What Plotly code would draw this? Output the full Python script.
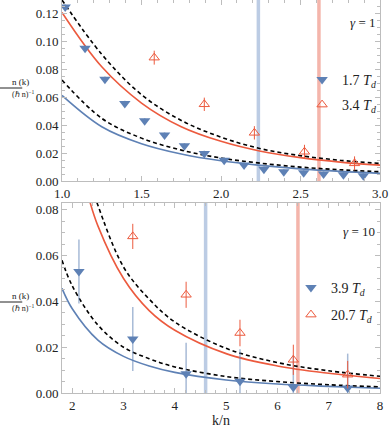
import plotly.graph_objects as go
from plotly.subplots import make_subplots

# ---- top panel (gamma = 1) ----
k_top = [1.0, 1.25, 1.5, 1.75, 2.0, 2.25, 2.5, 2.75, 3.0]
red_top = [0.121, 0.082, 0.056, 0.0390, 0.0285, 0.0214, 0.0168, 0.0136, 0.0114]
red_top_dash = [0.130, 0.091, 0.062, 0.0435, 0.0315, 0.0232, 0.0182, 0.0149, 0.0126]
blue_top = [0.0615, 0.0390, 0.0268, 0.0194, 0.0145, 0.0112, 0.0087, 0.0069, 0.0055]
blue_top_dash = [0.0725, 0.0450, 0.0308, 0.0222, 0.0165, 0.0128, 0.0100, 0.0081, 0.0067]

kb_top = [1.02, 1.145, 1.27, 1.395, 1.52, 1.645, 1.77, 1.895, 2.02, 2.145, 2.27, 2.395, 2.52, 2.645, 2.77, 2.895]
nb_top = [0.125, 0.0954, 0.073, 0.0556, 0.0432, 0.033, 0.0253, 0.0198, 0.015, 0.0115, 0.0084, 0.0067, 0.006, 0.005, 0.0045, 0.0038]
eb_top = [0.002] * 16
kr_top = [1.58, 1.895, 2.21, 2.525, 2.84]
nr_top = [0.0886, 0.0551, 0.0346, 0.021, 0.0127]
er_top = [0.005, 0.0048, 0.0048, 0.005, 0.005]
bands_top = [2.235, 2.616]

# ---- bottom panel (gamma = 10) ----
k_bot = [1.8, 2.0, 2.5, 3.0, 3.5, 4.0, 5.0, 6.0, 7.0, 8.0]
blue_bot = [0.0457, 0.0368, 0.0231, 0.0160, 0.0118, 0.0090, 0.0057, 0.0039, 0.0029, 0.0021]
blue_bot_dash = [0.058, 0.0468, 0.0297, 0.0200, 0.0150, 0.0114, 0.0072, 0.0050, 0.0036, 0.0027]
k_bot_r = [2.3, 2.5, 3.0, 3.5, 4.0, 5.0, 6.0, 7.0, 8.0]
red_bot = [0.087, 0.073, 0.050, 0.036, 0.0274, 0.0172, 0.0118, 0.0086, 0.0063]
k_bot_rd = [2.4, 2.5, 3.0, 3.5, 4.0, 5.0, 6.0, 7.0, 8.0]
red_bot_dash = [0.089, 0.082, 0.055, 0.041, 0.031, 0.0195, 0.0133, 0.0097, 0.0073]

kb_bot = [2.13, 3.18, 4.22, 5.27, 6.31, 7.37]
nb_bot = [0.0531, 0.0236, 0.0084, 0.0051, 0.0025, 0.0022]
eb_bot = [0.014, 0.014, 0.0135, 0.014, 0.014, 0.015]
kr_bot = [3.18, 4.22, 5.27, 6.31, 7.37]
nr_bot = [0.0684, 0.0429, 0.0262, 0.0145, 0.008]
er_bot = [0.0055, 0.0057, 0.0058, 0.0066, 0.006]
bands_bot = [4.60, 6.40]

BLUE = '#5e81b5'
RED = '#ec5a3e'
BAND_C = ['rgba(160,182,216,0.7)', 'rgba(240,150,135,0.7)']
SERIF = 'Liberation Serif'

fig = make_subplots(rows=2, cols=1)

def add_panel(row, curves, kb, nb, eb, kr, nr, er, labels, legs):
    for x, y, col, dash in curves:
        fig.add_trace(go.Scatter(x=x, y=y, mode='lines', line=dict(color=col, width=1.6, dash=dash, shape='spline'),
                                 showlegend=False, hoverinfo='skip'), row=row, col=1)
    fig.add_trace(go.Scatter(x=kb, y=nb, mode='markers', name=labels[0], legend=legs[0],
                             marker=dict(symbol='triangle-down', size=10, color=BLUE),
                             error_y=dict(type='data', array=eb, color='rgba(94,129,181,0.55)', thickness=1.5, width=0)),
                  row=row, col=1)
    fig.add_trace(go.Scatter(x=kr, y=nr, mode='markers', name=labels[1], legend=legs[1],
                             marker=dict(symbol='triangle-up-open', size=9, color=RED, line=dict(width=1)),
                             error_y=dict(type='data', array=er, color=RED, thickness=1, width=0)),
                  row=row, col=1)

add_panel(1,
          [(k_top, blue_top, BLUE, 'solid'), (k_top, red_top, RED, 'solid'),
           (k_top, blue_top_dash, 'black', '4px,3px'), (k_top, red_top_dash, 'black', '4px,3px')],
          kb_top, nb_top, eb_top, kr_top, nr_top, er_top,
          ['1.7 <i>T<sub>d</sub></i>', '3.4 <i>T<sub>d</sub></i>'], ['legend', 'legend2'])
add_panel(2,
          [(k_bot, blue_bot, BLUE, 'solid'), (k_bot_r, red_bot, RED, 'solid'),
           (k_bot, blue_bot_dash, 'black', '4px,3px'), (k_bot_rd, red_bot_dash, 'black', '4px,3px')],
          kb_bot, nb_bot, eb_bot, kr_bot, nr_bot, er_bot,
          ['3.9 <i>T<sub>d</sub></i>', '20.7 <i>T<sub>d</sub></i>'], ['legend3', 'legend4'])

for row, bands in ((1, bands_top), (2, bands_bot)):
    for xb, c in zip(bands, BAND_C):
        fig.add_vline(x=xb, line=dict(color=c, width=3.5), row=row, col=1, layer='below')

axis_common = dict(showgrid=False, zeroline=False, showline=True, linecolor='#bdbdbd', linewidth=1,
                   mirror='allticks', ticks='inside', ticklen=5, tickcolor='#bdbdbd',
                   tickfont=dict(family=SERIF, size=13, color='#222'))
minor = dict(ticks='inside', ticklen=3, tickcolor='#bdbdbd')
fig.update_xaxes(**axis_common)
fig.update_yaxes(**axis_common)
fig.update_xaxes(range=[1.0, 3.0], dtick=0.5, tickformat='.1f', minor=dict(minor, dtick=0.1), row=1, col=1)
fig.update_yaxes(range=[0, 0.13], dtick=0.02, tickformat='.2f', domain=[0.5394, 1], minor=dict(minor, dtick=0.005), row=1, col=1)
fig.update_xaxes(range=[1.8, 8.0], dtick=1, minor=dict(minor, dtick=0.2), row=2, col=1,
                 title=dict(text='k/n', font=dict(family=SERIF, size=14, color='#222'), standoff=2))
fig.update_yaxes(range=[0, 0.083], dtick=0.02, tickformat='.2f', domain=[0, 0.4835], minor=dict(minor, dtick=0.005), row=2, col=1)

# legends positioned inside each panel
leg = dict(bgcolor='rgba(0,0,0,0)', font=dict(family=SERIF, size=14, color='#222'), xanchor='left', yanchor='middle',
           itemwidth=30, tracegroupgap=0)
fig.update_layout(
    legend=dict(leg, x=0.755, y=1 - 80 / 393),
    legend2=dict(leg, x=0.755, y=1 - 105 / 393),
    legend3=dict(leg, x=0.72, y=1 - 288 / 393),
    legend4=dict(leg, x=0.72, y=1 - 315 / 393),
)

fig.add_annotation(text='<i>γ</i> = 1', xref='x domain', yref='y domain', x=0.99, y=0.93, showarrow=False,
                   xanchor='right', font=dict(family=SERIF, size=13, color='#222'))
fig.add_annotation(text='<i>γ</i> = 10', xref='x2 domain', yref='y2 domain', x=0.99, y=0.9, showarrow=False,
                   xanchor='right', font=dict(family=SERIF, size=13, color='#222'))

# y-axis label as a fraction, one per panel
for yc in (1 - 88 / 393, 1 - 302 / 393):
    fig.add_annotation(text='n (k)', xref='paper', yref='paper', x=-0.16, y=yc, yanchor='bottom', showarrow=False,
                       font=dict(family=SERIF, size=9, color='#222'), borderpad=0)
    fig.add_annotation(text='(ℏ n)<sup>−1</sup>', xref='paper', yref='paper', x=-0.16, y=yc, yanchor='top', showarrow=False,
                       font=dict(family=SERIF, size=8, color='#222'), borderpad=0)
    fig.add_shape(type='line', xref='paper', yref='paper', x0=-0.195, x1=-0.125, y0=yc, y1=yc,
                  line=dict(color='#222', width=1))

fig.update_layout(width=390, height=428, margin=dict(l=62, r=10, t=0, b=35),
                  plot_bgcolor='white', paper_bgcolor='white')
fig.write_html('out.html', config={'displayModeBar': False},
               post_script="document.body.style.margin='0';")
